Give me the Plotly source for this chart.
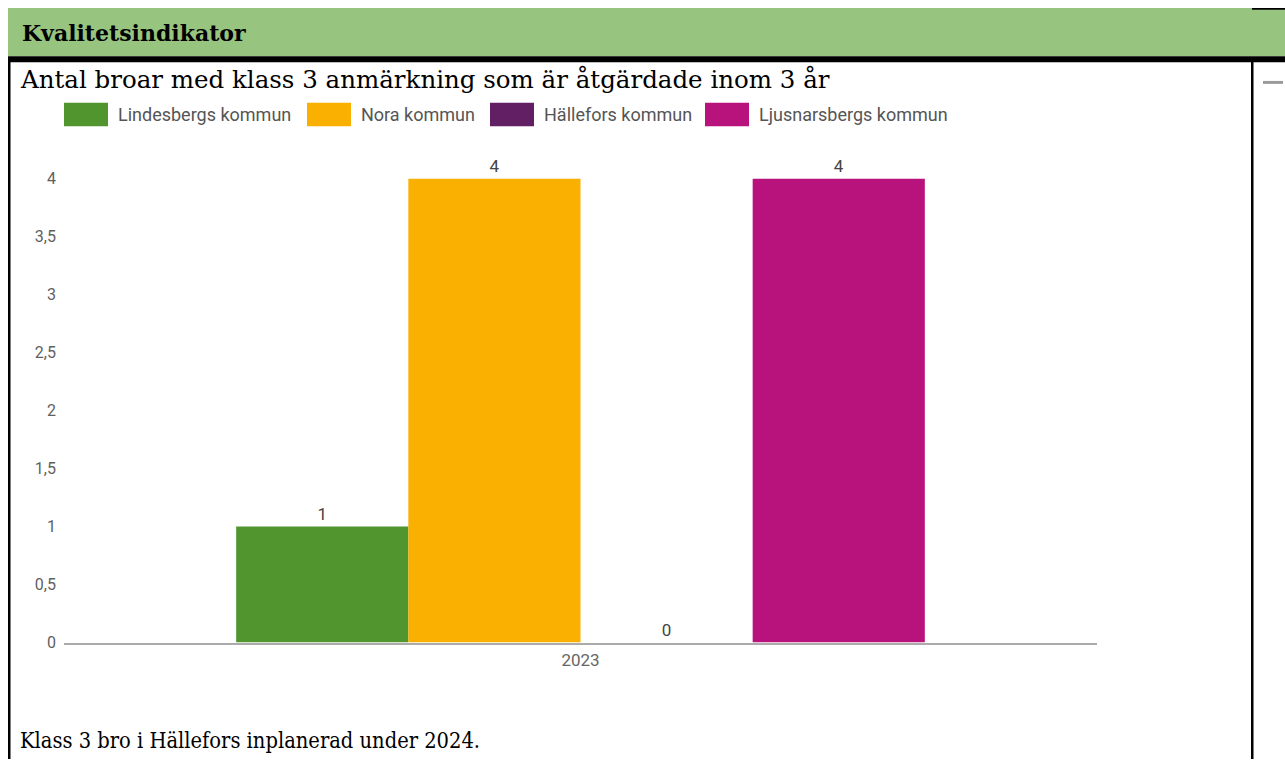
import plotly.graph_objects as go

# ---- data ----
years = ["2023"]
series_names = ["Lindesbergs kommun", "Nora kommun", "Hällefors kommun", "Ljusnarsbergs kommun"]
lindesberg = [1]
nora = [4]
hallefors = [0]
ljusnarsberg = [4]
series_values = [lindesberg, nora, hallefors, ljusnarsberg]
series_colors = ["#51952F", "#F9B000", "#621F64", "#B8137C"]
y_tickvals = [0, 0.5, 1, 1.5, 2, 2.5, 3, 3.5, 4]

header_text = "Kvalitetsindikator"
title_text = "Antal broar med klass 3 anmärkning som är åtgärdade inom 3 år"
footer_text = "Klass 3 bro i Hällefors inplanerad under 2024."

W, H = 1285, 769


def px(x):
    return x / W


def py(y):
    return 1 - y / H


fig = go.Figure()
for name, vals, col in zip(series_names, series_values, series_colors):
    fig.add_trace(go.Bar(
        x=years, y=vals, name=name, marker=dict(color=col, line=dict(width=0)),
        text=vals, texttemplate="%{y}", textposition="outside", cliponaxis=False,
        textfont=dict(family="Roboto", size=17, color="#444444"),
        showlegend=False,
    ))

# plot area in pixels
x_left, x_right = 64, 1097
y_zero, y_four = 651, 181
unit = (y_zero - y_four) / 4.0
y_top_val = 4.3
y_top_px = y_zero - y_top_val * unit

fig.update_layout(
    width=W, height=H,
    margin=dict(l=0, r=0, t=0, b=0),
    paper_bgcolor="white", plot_bgcolor="white",
    barmode="group", bargap=1/3, bargroupgap=0,
    separators=", ",
    showlegend=False,
    xaxis=dict(
        domain=[px(x_left), px(x_right)],
        showline=True, linecolor="#ABABAB", linewidth=2,
        showgrid=False, zeroline=False, ticks="",
        tickfont=dict(family="Roboto", size=17, color="#666666"),
        ticklabelstandoff=1,
        fixedrange=True,
    ),
    yaxis=dict(
        domain=[py(y_zero), py(y_top_px)],
        range=[0, y_top_val],
        tickvals=y_tickvals,
        showline=False, showgrid=False, zeroline=False, ticks="",
        tickfont=dict(family="Roboto", size=16, color="#5F5F5F"),
        ticklabelstandoff=7,
        fixedrange=True,
    ),
)

shapes = []
shapes.append(dict(type="rect", xref="paper", yref="paper", x0=px(8), x1=px(1285), y0=py(57), y1=py(8),
                   fillcolor="#97C47E", line=dict(width=0), layer="below"))
shapes.append(dict(type="rect", xref="paper", yref="paper", x0=px(1252), x1=px(1285), y0=py(10), y1=py(8),
                   fillcolor="black", line=dict(width=0)))
shapes.append(dict(type="rect", xref="paper", yref="paper", x0=px(8), x1=px(1285), y0=py(63), y1=py(57),
                   fillcolor="black", line=dict(width=0)))
shapes.append(dict(type="rect", xref="paper", yref="paper", x0=px(8), x1=px(10.5), y0=py(769), y1=py(60),
                   fillcolor="black", line=dict(width=0)))
shapes.append(dict(type="rect", xref="paper", yref="paper", x0=px(1251), x1=px(1253.5), y0=py(769), y1=py(60),
                   fillcolor="black", line=dict(width=0)))
shapes.append(dict(type="rect", xref="paper", yref="paper", x0=px(1263), x1=px(1283), y0=py(85), y1=py(82),
                   fillcolor="#9A9A9A", line=dict(width=0)))

annotations = []
annotations.append(dict(text="<b>" + header_text + "</b>", xref="paper", yref="paper", x=px(20), y=py(33),
                        xanchor="left", yanchor="middle", showarrow=False,
                        font=dict(family="DejaVu Serif", size=22, color="black")))
annotations.append(dict(text=title_text, xref="paper", yref="paper", x=px(18), y=py(81),
                        xanchor="left", yanchor="middle", showarrow=False,
                        font=dict(family="DejaVu Serif", size=24.5, color="black")))
annotations.append(dict(text=footer_text, xref="paper", yref="paper", x=px(18), y=py(750),
                        xanchor="left", yanchor="middle", showarrow=False,
                        font=dict(family="DejaVu Serif Condensed, Liberation Serif", size=21.7, color="black")))

legend_x = [64, 307, 490, 705]
for name, col, lx in zip(series_names, series_colors, legend_x):
    shapes.append(dict(type="rect", xref="paper", yref="paper", x0=px(lx), x1=px(lx + 44),
                       y0=py(128), y1=py(104), fillcolor=col, line=dict(width=0)))
    annotations.append(dict(text=name, xref="paper", yref="paper", x=px(lx + 52), y=py(116),
                            xanchor="left", yanchor="middle", showarrow=False,
                            font=dict(family="Roboto", size=18, color="#555555")))

fig.update_layout(shapes=shapes, annotations=annotations)

fig.write_html("out.html", config={"displayModeBar": False},
               post_script="document.body.style.margin='0';document.body.style.overflow='hidden';")
